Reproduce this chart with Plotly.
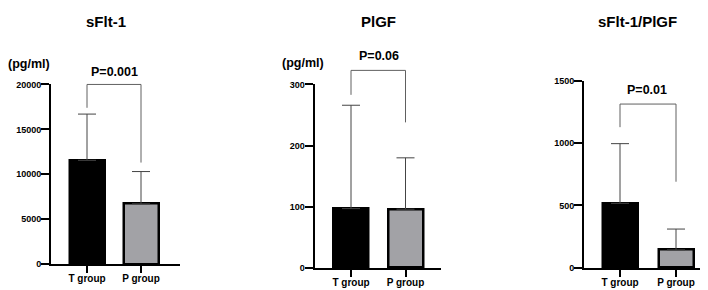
import plotly.graph_objects as go

W, H = 708, 290

groups = ["T group", "P group"]
titles = ["sFlt-1", "PlGF", "sFlt-1/PlGF"]
means_sflt = [11550, 6700]
sd_sflt = [5150, 3600]
means_plgf = [97, 96]
sd_plgf = [169, 84]
means_ratio = [517, 144]
sd_ratio = [478, 167]
p_texts = ["P=0.001", "P=0.06", "P=0.01"]
bracket_top = [20000, 323, 1312]
bracket_left = [17400, 283, 1127]
bracket_right = [11300, 238, 690]
y_ranges = [[0, 20000], [0, 300], [0, 1500]]
y_dticks = [5000, 100, 500]
units = ["(pg/ml)", "(pg/ml)", None]

means = [means_sflt, means_plgf, means_ratio]
sds = [sd_sflt, sd_plgf, sd_ratio]

# layout in pixels: (x0, x1, ytop, ybottom, center_T, center_P)
panels = [
    (43, 172, 74, 260, 79, 133),
    (306.5, 433, 74, 264, 343, 397.5),
    (576, 706, 70, 264, 612, 668),
]
BR_TOP_PX = 40  # top of the (hidden) bracket axes
title_pos = [(98, 9), (370, 9), (629, 9)]
p_pos = [(106, 61), (371, 45), (639, 80)]
unit_pos = [(21, 53), (295, 52), None]

fig = go.Figure()
FONT = "Liberation Sans, Arial, sans-serif"
bar_colors = ["#000000", "#a2a2a6"]

for i in range(3):
    x0, x1, yt, yb, cT, cP = panels[i]
    ppu = cP - cT
    xr = [(x0 - cT) / ppu, (x1 - cT) / ppu]
    xa = "x" if i == 0 else f"x{i+1}"
    ya = "y" if i == 0 else f"y{i+1}"
    yh = f"y{i+4}"  # hidden axis for bracket, same scale, taller domain
    fig.add_trace(go.Bar(
        x=[0, 1], y=means[i], width=35 / ppu,
        marker=dict(color=bar_colors, line=dict(color="black", width=2.5)),
        error_y=dict(type="data", array=sds[i], arrayminus=[0, 0], symmetric=False,
                     color="#444444", thickness=1, width=9),
        xaxis=xa, yaxis=ya, showlegend=False,
    ))
    fig.add_trace(go.Scatter(
        x=[0, 0, 1, 1],
        y=[bracket_left[i], bracket_top[i], bracket_top[i], bracket_right[i]],
        mode="lines", line=dict(color="#606060", width=1),
        xaxis=xa, yaxis=yh, showlegend=False, hoverinfo="skip",
    ))
    axkey = "xaxis" if i == 0 else f"xaxis{i+1}"
    aykey = "yaxis" if i == 0 else f"yaxis{i+1}"
    ahkey = f"yaxis{i+4}"
    r1 = y_ranges[i][1]
    fig.update_layout(**{
        axkey: dict(domain=[x0 / W, x1 / W], range=xr, anchor=ya,
                    tickmode="array", tickvals=[0, 1], ticktext=groups,
                    showline=True, linecolor="black", linewidth=2,
                    ticks="outside", ticklen=7, tickwidth=2, tickcolor="black",
                    ticklabelstandoff=-3,
                    showgrid=False, zeroline=False, fixedrange=True,
                    tickfont=dict(family=FONT, size=10, color="black", weight="bold")),
        aykey: dict(domain=[1 - yb / H, 1 - yt / H], range=y_ranges[i], anchor=xa,
                    dtick=y_dticks[i], tick0=0, tickformat="d",
                    showline=True, linecolor="black", linewidth=2,
                    ticks="outside", ticklen=8, tickwidth=2, tickcolor="black",
                    ticklabelstandoff=-2,
                    showgrid=False, zeroline=False,
                    tickfont=dict(family=FONT, size=9, color="black", weight="bold")),
        ahkey: dict(domain=[1 - yb / H, 1 - BR_TOP_PX / H],
                    range=[0, r1 * (yb - BR_TOP_PX) / (yb - yt)],
                    anchor=xa, visible=False, showgrid=False, zeroline=False),
    })
    fig.add_annotation(text=f"<b>{titles[i]}</b>", x=title_pos[i][0] / W, y=1 - title_pos[i][1] / H,
                       xref="paper", yref="paper", showarrow=False, xanchor="center", yanchor="middle",
                       font=dict(family=FONT, size=15, color="black"))
    fig.add_annotation(text=f"<b>{p_texts[i]}</b>", x=p_pos[i][0] / W, y=1 - p_pos[i][1] / H,
                       xref="paper", yref="paper", showarrow=False, xanchor="center", yanchor="middle",
                       font=dict(family=FONT, size=12.5, color="black"))
    if units[i]:
        fig.add_annotation(text=f"<b>{units[i]}</b>", x=unit_pos[i][0] / W, y=1 - unit_pos[i][1] / H,
                           xref="paper", yref="paper", showarrow=False, xanchor="center", yanchor="middle",
                           font=dict(family=FONT, size=12.5, color="black"))

fig.update_layout(width=W, height=H, margin=dict(l=0, r=0, t=0, b=0),
                  paper_bgcolor="white", plot_bgcolor="rgba(0,0,0,0)", bargap=0)
fig.write_html("out.html")
